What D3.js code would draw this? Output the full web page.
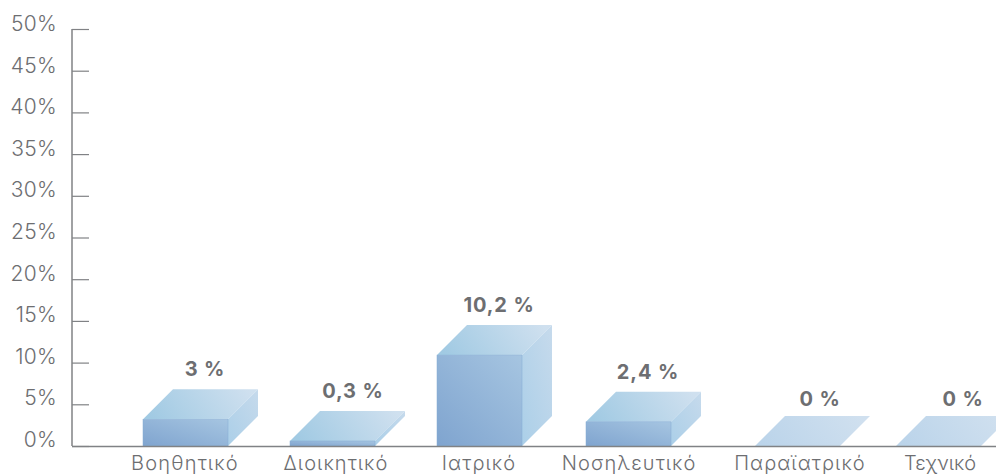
<!DOCTYPE html>
<html>
<head>
<meta charset="utf-8">
<style>
  html, body { margin: 0; padding: 0; background: #fff; }
  svg { display: block; }
  text { font-family: Inter, "Noto Sans", sans-serif; }
</style>
<script src="https://cdn.jsdelivr.net/npm/d3@7"></script>
</head>
<body>
<div id="chart"></div>
<script>
var categories = ['Βοηθητικό', 'Διοικητικό', 'Ιατρικό', 'Νοσηλευτικό', 'Παραϊατρικό', 'Τεχνικό'];
// printed labels
var valueLabels = ['3 %', '0,3 %', '10,2 %', '2,4 %', '0 %', '0 %'];
// bar heights as read against the y axis (the drawn bars are a bit taller than their labels)
var barValues = [3.2, 0.6, 10.9, 2.9, 0, 0];
var yTicks = [0, 5, 10, 15, 20, 25, 30, 35, 40, 45, 50];

var width = 996, height = 474;
var barWidth = 85, depth = 30;

var svg = d3.select('#chart').append('svg')
  .attr('width', width)
  .attr('height', height);

var y = d3.scaleLinear().domain([0, 50]).range([446, 29]);

// the bars are not evenly spaced in the picture
var barLeft = d3.scaleOrdinal().domain(categories).range([143, 290, 437, 586, 755, 896]);
var labelX = d3.scaleOrdinal().domain(categories).range([185, 336, 479, 629, 800, 940]);
var valueX = d3.scaleOrdinal().domain(categories).range([205, 353, 499, 648, 820, 963]);
var labelTracking = d3.scaleOrdinal().domain(categories).range([1.2, 1.1, 1.1, 1.1, 1.1, 0]);

function gradient(id, x1, y1, x2, y2, from, to) {
  var g = defs.append('linearGradient').attr('id', id)
    .attr('x1', x1).attr('y1', y1).attr('x2', x2).attr('y2', y2);
  g.append('stop').attr('offset', '0%').attr('stop-color', from);
  g.append('stop').attr('offset', '100%').attr('stop-color', to);
}

var defs = svg.append('defs');
gradient('front', 0, 1, 1, 0, '#7fa4cf', '#a6c5e1');
gradient('top', 0, 0.6, 1, 0.4, '#a1cae3', '#cfe0ef');
gradient('side', 0, 1, 1, 0, '#abcfe8', '#c6daec');
gradient('flat', 0, 0.6, 1, 0.4, '#bbd4ea', '#d0e0ef');

function poly(points) {
  var p = d3.path();
  points.forEach(function (d, i) {
    if (i == 0) p.moveTo(d[0], d[1]); else p.lineTo(d[0], d[1]);
  });
  p.closePath();
  return p.toString();
}

var bars = svg.append('g')
  .selectAll('g')
  .data(categories)
  .enter().append('g');

// top face
bars.append('path')
  .attr('d', function (d, i) {
    var x0 = barLeft(d), yt = y(barValues[i]);
    return poly([[x0, yt], [x0 + depth, yt - depth], [x0 + barWidth + depth, yt - depth], [x0 + barWidth, yt]]);
  })
  .attr('fill', function (d, i) { return barValues[i] > 0 ? 'url(#top)' : 'url(#flat)'; });

// right side
bars.filter(function (d, i) { return barValues[i] > 0; }).append('path')
  .attr('d', function (d) {
    var i = categories.indexOf(d);
    var x1 = barLeft(d) + barWidth, yt = y(barValues[i]), yb = y(0);
    return poly([[x1, yt], [x1 + depth, yt - depth], [x1 + depth, yb - depth], [x1, yb]]);
  })
  .attr('fill', 'url(#side)');

// front
bars.filter(function (d, i) { return barValues[i] > 0; }).append('rect')
  .attr('x', function (d) { return barLeft(d); })
  .attr('y', function (d) { return y(barValues[categories.indexOf(d)]); })
  .attr('width', barWidth)
  .attr('height', function (d) { return y(0) - y(barValues[categories.indexOf(d)]); })
  .attr('fill', 'url(#front)')
  .attr('stroke', '#85acd4')
  .attr('stroke-width', 0.5);

// value labels, the zero ones sit closer to their flat bars
bars.append('text')
  .attr('x', function (d) { return valueX(d); })
  .attr('y', function (d, i) { return y(barValues[i]) - depth - (barValues[i] > 0 ? 13 : 10.5); })
  .attr('text-anchor', 'middle')
  .attr('font-size', 20)
  .attr('font-weight', 700)
  .attr('letter-spacing', 0.9)
  .attr('fill', '#6d6e71')
  .text(function (d, i) { return valueLabels[i]; });

// y axis, ticks point inwards
var yAxis = d3.axisLeft(y)
  .tickValues(yTicks)
  .tickSize(-17)
  .tickPadding(15)
  .tickFormat(function (d) { return d + '%'; });

var yG = svg.append('g')
  .attr('transform', 'translate(72,0)')
  .call(yAxis);

// tick labels drift from the ticks a little
var labelShift = d3.scaleLinear().domain([0, 50]).range([0, 1]);

yG.select('.domain').attr('d', 'M0,' + y(50) + 'V' + y(0)).attr('stroke', '#808285').attr('stroke-width', 1.5);
yG.selectAll('.tick line').attr('stroke', '#808285').attr('stroke-width', 1.2);
yG.selectAll('.tick text')
  .attr('y', function (d) { return labelShift(d); })
  .attr('dy', '0.02em')
  .attr('font-size', 21)
  .attr('font-weight', 300)
  .attr('letter-spacing', 0.3)
  .attr('fill', '#6d6e71');

// baseline
svg.append('line')
  .attr('x1', 72).attr('x2', width)
  .attr('y1', y(0) + 0.5).attr('y2', y(0) + 0.5)
  .attr('stroke', '#808285')
  .attr('stroke-width', 1.5);

// category labels
svg.append('g')
  .selectAll('text')
  .data(categories)
  .enter().append('text')
  .attr('x', function (d) { return labelX(d); })
  .attr('y', 470)
  .attr('text-anchor', 'middle')
  .attr('font-size', 20)
  .attr('font-weight', 300)
  .attr('letter-spacing', function (d) { return labelTracking(d); })
  .attr('fill', '#6d6e71')
  .text(function (d) { return d; });
</script>
</body>
</html>
